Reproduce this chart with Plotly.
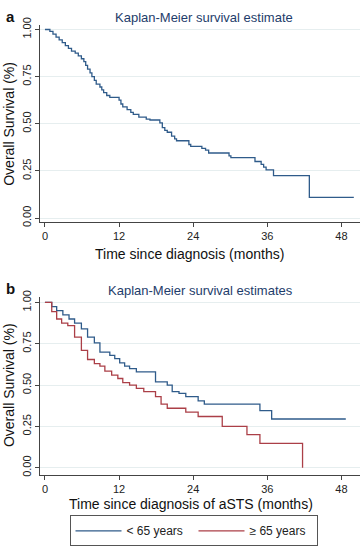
import plotly.graph_objects as go

# ---- Data ----
# Panel a: overall KM estimate
a_time = [0, 0.8, 1.3, 1.8, 2.3, 2.8, 3.3, 3.8, 4.3, 4.9, 5.4, 5.9, 6.3, 6.6, 6.9, 7.3, 7.6,
          8.0, 8.3, 8.9, 9.2, 9.5, 10.0, 10.5, 12.0, 12.3, 12.6, 13.3, 13.9, 14.3, 15.2, 16.4,
          17.0, 18.6, 19.0, 19.4, 19.8, 20.5, 21.0, 21.3, 23.3, 23.6, 25.4, 26.0, 26.5, 29.8,
          30.1, 34.0, 35.0, 35.4, 35.8, 37.0, 42.8, 50.0]
a_surv = [1.00, 0.99, 0.975, 0.96, 0.945, 0.93, 0.915, 0.90, 0.885, 0.875, 0.86, 0.845, 0.83,
          0.81, 0.79, 0.77, 0.75, 0.73, 0.71, 0.695, 0.68, 0.665, 0.65, 0.64, 0.625, 0.605, 0.59,
          0.575, 0.56, 0.55, 0.535, 0.525, 0.52, 0.505, 0.48, 0.465, 0.455, 0.435, 0.42, 0.41,
          0.39, 0.38, 0.37, 0.36, 0.345, 0.33, 0.32, 0.30, 0.285, 0.27, 0.255, 0.225, 0.11, 0.11]

# Panel b: by age group
young_time = [0, 1.1, 1.9, 2.9, 3.9, 4.8, 5.9, 6.9, 8.0, 8.9, 10.5, 11.3, 12.1, 12.9, 13.7,
              14.8, 17.9, 19.8, 20.6, 21.7, 22.8, 24.8, 25.8, 34.8, 36.7, 48.7]
young_surv = [1.00, 0.975, 0.95, 0.925, 0.90, 0.875, 0.84, 0.79, 0.755, 0.70, 0.68, 0.66,
              0.635, 0.615, 0.60, 0.58, 0.52, 0.50, 0.46, 0.45, 0.43, 0.405, 0.385, 0.345,
              0.295, 0.295]
old_time = [0, 1.1, 1.9, 2.7, 3.7, 4.8, 5.9, 6.9, 8.0, 8.9, 9.7, 10.8, 11.8, 12.6, 13.7,
            14.8, 16.0, 17.9, 18.8, 19.8, 22.8, 24.8, 28.7, 32.7, 34.8, 41.7]
old_surv = [1.00, 0.945, 0.90, 0.875, 0.86, 0.79, 0.71, 0.655, 0.63, 0.615, 0.585, 0.56, 0.54,
            0.515, 0.50, 0.48, 0.46, 0.43, 0.385, 0.36, 0.337, 0.31, 0.25, 0.20, 0.147, 0.0]

x_ticks = [0, 12, 24, 36, 48]
y_ticks = [0.0, 0.25, 0.5, 0.75, 1.0]
y_ticklabels = ["0.00", "0.25", "0.50", "0.75", "1.00"]
group_names = ["< 65 years", "\u2265 65 years"]

# ---- Styling ----
W, H = 360, 547
FONT = "Liberation Sans, Arial, Helvetica, sans-serif"
BLUE = "#2f5b8a"
RED = "#ab3f47"
TITLE_C = "#1e3d6b"
AX_C = "#444444"
GRID_C = "#e6eeef"

fig = go.Figure()
fig.add_trace(go.Scatter(x=a_time, y=a_surv, mode="lines", line=dict(color=BLUE, width=1.3, shape="hv"),
                         xaxis="x", yaxis="y", showlegend=False))
fig.add_trace(go.Scatter(x=young_time, y=young_surv, mode="lines", name=group_names[0],
                         line=dict(color=BLUE, width=1.3, shape="hv"), xaxis="x2", yaxis="y2"))
fig.add_trace(go.Scatter(x=old_time, y=old_surv, mode="lines", name=group_names[1],
                         line=dict(color=RED, width=1.3, shape="hv"), xaxis="x2", yaxis="y2"))

def px_x(p):
    return p / W

def px_y(p):
    return 1 - p / H

xdom = [px_x(40), 1.0]
common_x = dict(range=[-0.8, 51], tickvals=x_ticks, ticks="outside", ticklen=4, tickcolor=AX_C,
                showline=True, linecolor=AX_C, linewidth=1, showgrid=False, zeroline=False,
                tickfont=dict(size=11, color="#222222", family=FONT), domain=xdom)
common_y = dict(tickvals=y_ticks, ticktext=y_ticklabels, ticks="outside", ticklen=4, tickcolor=AX_C,
                showline=True, linecolor=AX_C, linewidth=1, showgrid=True, gridcolor=GRID_C,
                gridwidth=1, zeroline=False, tickangle=-90,
                tickfont=dict(size=11, color="#222222", family=FONT))

fig.update_layout(
    width=W, height=H, margin=dict(l=0, r=0, t=0, b=0),
    paper_bgcolor="white", plot_bgcolor="white",
    font=dict(family=FONT, color="#222222"),
    xaxis=dict(**common_x, anchor="y"),
    yaxis=dict(**common_y, anchor="x", domain=[px_y(220), px_y(18)], range=[-0.022, 1.026]),
    xaxis2=dict(**common_x, anchor="y2"),
    yaxis2=dict(**common_y, anchor="x2", domain=[px_y(478), px_y(296)], range=[-0.041, 1.036]),
    legend=dict(orientation="h", x=px_x(193.5), xanchor="center", y=-0.008, yanchor="bottom",
                bordercolor="#555555", borderwidth=1, bgcolor="white",
                font=dict(size=12, family=FONT, color="#222222"),
                itemwidth=46, entrywidth=62, entrywidthmode="pixels", tracegroupgap=0),
)

ann = []
ann.append(dict(text="<b>a</b>", x=px_x(4), y=px_y(10), xref="paper", yref="paper",
                xanchor="left", yanchor="middle", showarrow=False, font=dict(size=15, color="#111111")))
ann.append(dict(text="<b>b</b>", x=px_x(4), y=px_y(288), xref="paper", yref="paper",
                xanchor="left", yanchor="middle", showarrow=False, font=dict(size=15, color="#111111")))
ann.append(dict(text="Kaplan-Meier survival estimate", x=px_x(204), y=px_y(11), xref="paper", yref="paper",
                xanchor="center", yanchor="middle", showarrow=False, font=dict(size=13, color=TITLE_C)))
ann.append(dict(text="Kaplan-Meier survival estimates", x=px_x(200), y=px_y(290), xref="paper", yref="paper",
                xanchor="center", yanchor="middle", showarrow=False, font=dict(size=13, color=TITLE_C)))
ann.append(dict(text="Time since diagnosis (months)", x=px_x(189), y=px_y(253), xref="paper", yref="paper",
                xanchor="center", yanchor="middle", showarrow=False, font=dict(size=14, color="#111111")))
ann.append(dict(text="Time since diagnosis of aSTS (months)", x=px_x(191), y=px_y(508), xref="paper", yref="paper",
                xanchor="center", yanchor="middle", showarrow=False, font=dict(size=14, color="#111111")))
ann.append(dict(text="Overall Survival (%)", x=px_x(9), y=0.5, xref="paper", yref="y",
                xanchor="center", yanchor="middle", textangle=-90, showarrow=False,
                font=dict(size=14, color="#111111")))
ann.append(dict(text="Overall Survival (%)", x=px_x(9), y=0.5, xref="paper", yref="y2",
                xanchor="center", yanchor="middle", textangle=-90, showarrow=False,
                font=dict(size=14, color="#111111")))
fig.update_layout(annotations=ann)

fig.write_html("out.html", config={"displayModeBar": False},
               post_script="document.body.style.margin='0';")
